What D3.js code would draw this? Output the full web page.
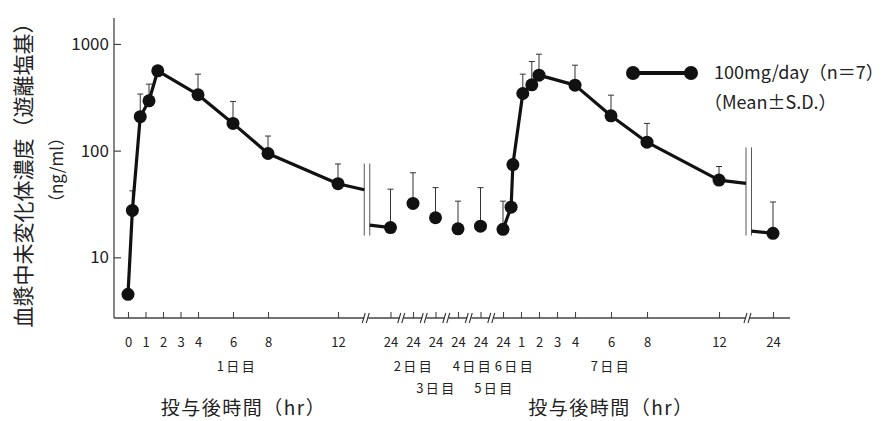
<!DOCTYPE html>
<html>
<head>
<meta charset="utf-8">
<script src="https://cdn.jsdelivr.net/npm/d3@7"></script>
<style>
body { margin: 0; background: #fff; }
text { font-family: "Noto Sans CJK JP", "Noto Sans", sans-serif; fill: #222; }
</style>
</head>
<body>
<div id="chart"></div>
<script>
// day 1 (first dose)
var day1Hours = [0, 0.25, 0.7, 1.2, 1.7, 4, 6, 8, 12];
var day1Mean = [4.5, 27.5, 208, 293, 560, 334, 180, 94, 49];
var day1Upper = [null, 42, 339, 420, null, 521, 289, 137, 75];
var day1Cut = [43, 20];          // line value just before / after the axis break

// 24 h troughs, day 1 .. day 5
var troughDays = [1, 2, 3, 4, 5];
var troughMean = [19, 32, 23.5, 18.5, 19.6];
var troughUpper = [43.5, 62, 45, 33.6, 45];

// day 6 (last dose) and 24 h after it
var day6Hours = [0, 0.45, 0.55, 1.1, 1.6, 2, 4, 6, 8, 12];
var day6Mean = [18.3, 29.5, 74, 343, 414, 510, 411, 212, 120, 53];
var day6Upper = [33.6, null, null, 521, 684, 801, 632, 331, 180, 71];
var day6Cut = [49.4, 17.6];
var day7Mean = [16.8];
var day7Upper = [33];

var hourTicks = [0, 1, 2, 3, 4, 6, 8, 12];
var hourTicks6 = [1, 2, 3, 4, 6, 8, 12];
var yTicks = [10, 100, 1000];
var dayLabels = ["1日目", "2日目", "3日目", "4日目", "5日目", "6日目", "7日目"];

var width = 887, height = 421;
var axisX = 114, axisY = 318;
var breakHour = 13.5, pos24 = 15, gap = 5.5;

var svg = d3.select("#chart").append("svg")
	.attr("width", width)
	.attr("height", height);

var y = d3.scaleLog().domain([2.7, 1750]).range([axisY, 18]);
var x1 = d3.scaleLinear().domain([0, 12]).range([128, 338]);
var x6 = d3.scaleLinear().domain([0, 12]).range([503, 719]);
var xt = d3.scaleLinear().domain([1, 6]).range([x1(pos24), x6(0)]);

// axes lines
svg.append("line")
	.attr("x1", axisX).attr("y1", 18).attr("x2", axisX).attr("y2", axisY)
	.attr("stroke", "#444").attr("stroke-width", 1.3);
svg.append("line")
	.attr("x1", axisX).attr("y1", axisY).attr("x2", 790).attr("y2", axisY)
	.attr("stroke", "#444").attr("stroke-width", 1.3);

// y axis
var yAxis = d3.axisLeft(y).tickValues(yTicks).tickFormat(d3.format("d"))
	.tickSizeInner(-7).tickSizeOuter(0).tickPadding(5);
var gy = svg.append("g").attr("transform", "translate(" + axisX + ",0)").call(yAxis);
gy.select(".domain").remove();
gy.selectAll("line").attr("stroke", "#444").attr("stroke-width", 1.2);
gy.selectAll("text").attr("font-size", 17).attr("fill", "#222");

// x axes (ticks point up, into the plot)
function xAxisPart(scale, values, fmt) {
	var ax = d3.axisBottom(scale).tickValues(values).tickFormat(fmt)
		.tickSizeInner(-6).tickSizeOuter(0).tickPadding(20);
	var g = svg.append("g").attr("transform", "translate(0," + axisY + ")").call(ax);
	g.select(".domain").remove();
	g.selectAll("line").attr("stroke", "#444").attr("stroke-width", 1.1);
	g.selectAll("text").attr("font-size", 13).attr("fill", "#222");
	return g;
}
xAxisPart(x1, hourTicks, function (d) { return d; });
xAxisPart(x1, [pos24], function () { return "24"; });
xAxisPart(xt, [2, 3, 4, 5, 6], function () { return "24"; });
xAxisPart(x6, hourTicks6, function (d) { return d; });
xAxisPart(x6, [pos24], function () { return "24"; });

// axis break marks
var axisBreaks = [x1(breakHour) + 2, xt(1.5), xt(2.5), xt(3.5), xt(4.5), xt(5.5), x6(breakHour) + 2];
axisBreaks.forEach(function (bx) {
	svg.append("rect")
		.attr("x", bx - 2).attr("y", axisY - 3).attr("width", 4).attr("height", 6)
		.attr("fill", "#fff");
	[-2.5, 1.5].forEach(function (o) {
		svg.append("line")
			.attr("x1", bx + o - 1.5).attr("y1", axisY + 5)
			.attr("x2", bx + o + 1.5).attr("y2", axisY - 5)
			.attr("stroke", "#333").attr("stroke-width", 1.1);
	});
});

// break double lines inside the plot
[[x1(breakHour), 75.6, 16], [x6(breakHour), 107, 16]].forEach(function (b) {
	[0, gap].forEach(function (o) {
		svg.append("line")
			.attr("x1", b[0] + o).attr("x2", b[0] + o)
			.attr("y1", y(b[1])).attr("y2", y(b[2]))
			.attr("stroke", "#556").attr("stroke-width", 1);
	});
});

// error bars
function errorBars(xs, means, uppers) {
	xs.forEach(function (xv, i) {
		if (uppers[i] == null) return;
		svg.append("line")
			.attr("x1", xv).attr("x2", xv)
			.attr("y1", y(means[i])).attr("y2", y(uppers[i]))
			.attr("stroke", "#333").attr("stroke-width", 1);
		svg.append("line")
			.attr("x1", xv - 3).attr("x2", xv + 3)
			.attr("y1", y(uppers[i])).attr("y2", y(uppers[i]))
			.attr("stroke", "#333").attr("stroke-width", 1);
	});
}

var day1X = day1Hours.map(function (h) { return x1(h); });
var troughX = troughDays.map(function (d) { return xt(d); });
var day6X = day6Hours.map(function (h) { return x6(h); });
var day7X = [x6(pos24)];

errorBars(day1X, day1Mean, day1Upper);
errorBars(troughX, troughMean, troughUpper);
errorBars(day6X, day6Mean, day6Upper);
errorBars(day7X, day7Mean, day7Upper);

// lines
var line = d3.line().x(function (d) { return d[0]; }).y(function (d) { return y(d[1]); });
function path(pts) {
	svg.append("path").attr("d", line(pts))
		.attr("fill", "none").attr("stroke", "#111").attr("stroke-width", 3.2)
		.attr("stroke-linejoin", "round");
}
var p1 = day1X.map(function (xv, i) { return [xv, day1Mean[i]]; });
p1.push([x1(breakHour), day1Cut[0]]);
path(p1);
path([[x1(breakHour) + gap, day1Cut[1]], [troughX[0], troughMean[0]]]);
var p6 = day6X.map(function (xv, i) { return [xv, day6Mean[i]]; });
p6.push([x6(breakHour), day6Cut[0]]);
path(p6);
path([[x6(breakHour) + gap, day6Cut[1]], [day7X[0], day7Mean[0]]]);

// points
function dots(xs, means) {
	xs.forEach(function (xv, i) {
		svg.append("circle")
			.attr("cx", xv).attr("cy", y(means[i])).attr("r", 6.5)
			.attr("fill", "#111");
	});
}
dots(day1X, day1Mean);
dots(troughX, troughMean);
dots(day6X, day6Mean);
dots(day7X, day7Mean);

// day labels under the axis
var dayAt = [x1(6) + 4, xt(2) + 1, xt(3) + 1, xt(4) + 15, xt(5) + 14, x6(0) + 12, x6(6)];
var dayRow = [0, 0, 1, 0, 1, 0, 0];
dayLabels.forEach(function (t, i) {
	svg.append("text")
		.attr("x", dayAt[i]).attr("y", 371 + dayRow[i] * 22)
		.attr("text-anchor", "middle").attr("font-size", 13)
		.attr("letter-spacing", 2.5)
		.text(t);
});

// axis titles
[x1(6.6), x6(6)].forEach(function (cx) {
	svg.append("text")
		.attr("x", cx).attr("y", 415)
		.attr("text-anchor", "middle").attr("font-size", 19)
		.attr("letter-spacing", 1.5)
		.text("投与後時間（hr）");
});
svg.append("text")
	.attr("transform", "translate(31,170) rotate(-90)")
	.attr("text-anchor", "middle").attr("font-size", 21)
	.text("血漿中未変化体濃度（遊離塩基）");
svg.append("text")
	.attr("transform", "translate(63,170) rotate(-90)")
	.attr("text-anchor", "middle").attr("font-size", 17)
	.text("（ng/ml）");

// legend
svg.append("line")
	.attr("x1", 633).attr("y1", 73).attr("x2", 691).attr("y2", 73)
	.attr("stroke", "#111").attr("stroke-width", 4);
[633, 691].forEach(function (cx) {
	svg.append("circle").attr("cx", cx).attr("cy", 73).attr("r", 7).attr("fill", "#111");
});
svg.append("text")
	.attr("x", 714).attr("y", 79).attr("font-size", 18)
	.text("100mg/day（n＝7）");
svg.append("text")
	.attr("x", 704).attr("y", 109).attr("font-size", 18)
	.text("（Mean±S.D.）");
</script>
</body>
</html>
